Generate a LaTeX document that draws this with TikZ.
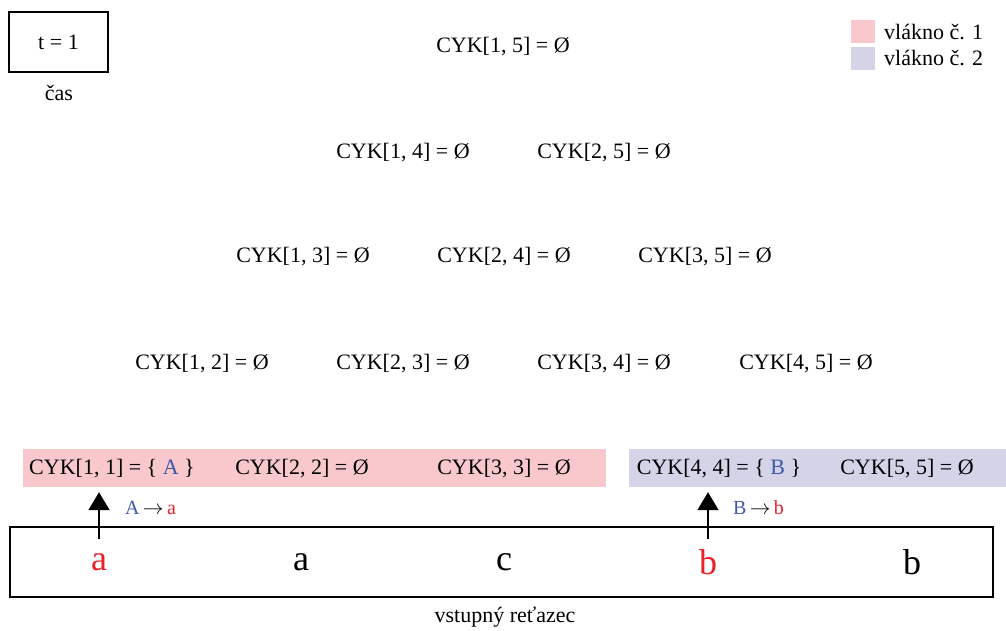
\documentclass[tikz,border=0pt]{standalone}
\usepackage{fontspec}
\setmainfont{Liberation Serif}
\usetikzlibrary{arrows.meta}
\definecolor{pinkbg}{HTML}{F8C8CC}
\definecolor{bluebg}{HTML}{D4D3E8}
\definecolor{ntblue}{HTML}{3C5AA8}
\definecolor{tred}{HTML}{E8202A}
\tikzset{
  cyk/.style={font=\fontsize{22}{26}\selectfont, inner sep=0pt},
  sym/.style={font=\fontsize{36}{40}\selectfont, inner sep=0pt},
  lbl/.style={font=\fontsize{22}{26}\selectfont, inner sep=0pt},
  rule/.style={font=\fontsize{20}{24}\selectfont, inner sep=0pt},
  up/.style={line width=2pt, -{Triangle[width=21pt,length=18pt]}},
  band/.style={inner sep=0pt, minimum height=38pt},
}
\begin{document}
\begin{tikzpicture}[x=1pt,y=-1pt]
\useasboundingbox (0,0) rectangle (1006,630);
% time box
\node[draw, line width=2pt, minimum width=99pt, minimum height=60pt, inner sep=0pt, cyk] (tbox) at (58.5,42) {t = 1};
\node[lbl] (cas) at (59,93) {čas};
% legend
\fill[pinkbg] (851,20) rectangle (875,43);
\fill[bluebg] (851,47) rectangle (875,70);
\node[lbl, anchor=west] (leg1) at (884,32) {vlákno č. 1};
\node[lbl, anchor=west] (leg2) at (884,58) {vlákno č. 2};
% bands
\node[band, fill=pinkbg, minimum width=583pt] (band1) at (314.5,468) {};
\node[band, fill=bluebg, minimum width=377pt] (band2) at (817.5,468) {};
% table
\node[cyk] (c15) at (503,47) {CYK[1, 5] = Ø};
\node[cyk] (c14) at (403,153) {CYK[1, 4] = Ø};
\node[cyk] (c25) at (604,153) {CYK[2, 5] = Ø};
\node[cyk] (c13) at (303,257) {CYK[1, 3] = Ø};
\node[cyk] (c24) at (504,257) {CYK[2, 4] = Ø};
\node[cyk] (c35) at (705,257) {CYK[3, 5] = Ø};
\node[cyk] (c12) at (202,364) {CYK[1, 2] = Ø};
\node[cyk] (c23) at (403,364) {CYK[2, 3] = Ø};
\node[cyk] (c34) at (604,364) {CYK[3, 4] = Ø};
\node[cyk] (c45) at (806,364) {CYK[4, 5] = Ø};
\node[cyk] (c11) at (112,469) {CYK[1, 1] = \{ \textcolor{ntblue}{A} \}};
\node[cyk] (c22) at (302,469) {CYK[2, 2] = Ø};
\node[cyk] (c33) at (504,469) {CYK[3, 3] = Ø};
\node[cyk] (c44) at (719,469) {CYK[4, 4] = \{ \textcolor{ntblue}{B} \}};
\node[cyk] (c55) at (907,469) {CYK[5, 5] = Ø};
% input string
\node[draw, line width=2pt, minimum width=983pt, minimum height=70pt, inner sep=0pt] (input) at (501.5,562) {};
\node[sym, text=tred] (s1) at (99,562) {a};
\node[sym] (s2) at (301,562) {a};
\node[sym] (s3) at (504,562) {c};
\node[sym, text=tred] (s4) at (708,562) {b};
\node[sym] (s5) at (912,562) {b};
\node[lbl] (inlbl) at (505,617) {vstupný reťazec};
% rules
\node[rule, anchor=west] (r1) at (125,508) {\textcolor{ntblue}{A}\,$\rightarrow$\,\textcolor{tred}{a}};
\node[rule, anchor=west] (r2) at (733,508) {\textcolor{ntblue}{B}\,$\rightarrow$\,\textcolor{tred}{b}};
% arrows
\coordinate (a1) at (99,539);
\coordinate (a2) at (708,539);
\draw[up] (a1) -- ([yshift=-5pt]band1.south -| a1);
\draw[up] (a2) -- ([yshift=-5pt]band2.south -| a2);
\end{tikzpicture}
\end{document}
